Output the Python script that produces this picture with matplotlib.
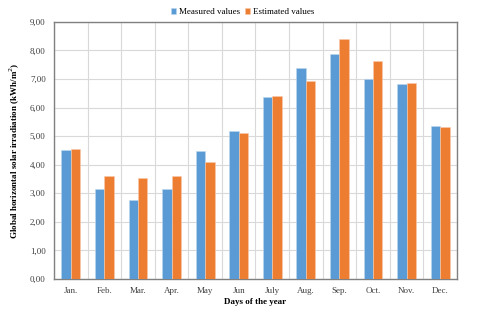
import matplotlib
matplotlib.use("Agg")
import matplotlib.pyplot as plt
import numpy as np
from matplotlib.ticker import FuncFormatter, MultipleLocator

months = ["Jan.", "Feb.", "Mar.", "Apr.", "May", "Jun", "July", "Aug.", "Sep.", "Oct.", "Nov.", "Dec."]
measured = [4.52, 3.15, 2.77, 3.14, 4.49, 5.17, 6.36, 7.39, 7.87, 7.01, 6.81, 5.37]
estimated = [4.55, 3.60, 3.52, 3.62, 4.10, 5.10, 6.40, 6.94, 8.39, 7.62, 6.85, 5.31]

plt.rcParams['font.family'] = ['Liberation Serif', 'DejaVu Serif']

fig = plt.figure(figsize=(4.8, 3.13), dpi=100)
ax = fig.add_axes([0.1125, 0.109, 0.8395, 0.821])

x = np.arange(len(months))
w = 0.28
ax.bar(x - w/2, measured, w, color="#5B9BD5", label="Measured values", zorder=3,
       edgecolor="#BDD7EE", linewidth=0.4)
ax.bar(x + w/2, estimated, w, color="#ED7D31", label="Estimated values", zorder=3,
       edgecolor="#F8CBAD", linewidth=0.4)

ax.set_xlim(-0.5, len(months) - 0.5)
ax.set_ylim(0, 9)
ax.yaxis.set_major_locator(MultipleLocator(1))
ax.yaxis.set_major_formatter(FuncFormatter(lambda v, p: f"{v:.2f}".replace(".", ",")))
ax.set_xticks(x)
ax.set_xticklabels(months)
ax.set_xticks(np.arange(-0.5, len(months), 1), minor=True)
ax.grid(True, which="major", axis="y", color="#d9d9d9", linewidth=0.8, zorder=0)
ax.grid(True, which="minor", axis="x", color="#d9d9d9", linewidth=0.8, zorder=0)
ax.tick_params(axis="both", which="both", length=0, labelsize=6.5, colors="#404040")
ax.tick_params(axis="x", pad=6)
ax.tick_params(axis="y", pad=6)
for s in ax.spines.values():
    s.set_color("#808080")
    s.set_linewidth(1.0)

ax.set_xlabel("Days of the year", fontsize=6.5, fontweight="bold", labelpad=2)
ax.set_ylabel("Global horizontal solar irradiation (kWh/m$^2$)", fontsize=6.5, fontweight="bold", labelpad=6)

leg = fig.legend(loc="upper center", bbox_to_anchor=(0.505, 1.0), ncol=2, frameon=False,
                 fontsize=6.5, handlelength=0.6, handleheight=0.6, handletextpad=0.3, columnspacing=0.5)

fig.savefig("out.png", dpi=100)
